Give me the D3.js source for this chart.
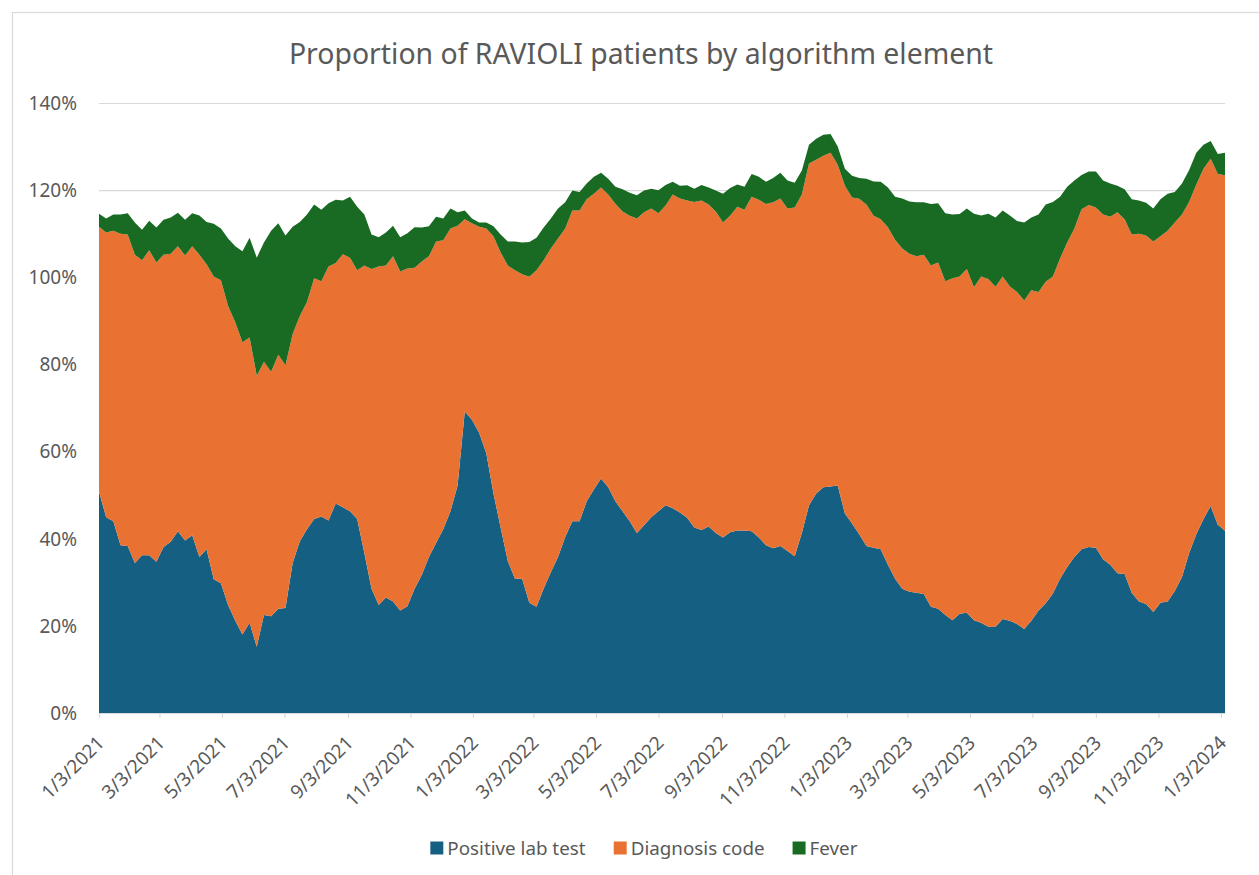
<!DOCTYPE html>
<html>
<head>
<meta charset="utf-8">
<script src="https://cdn.jsdelivr.net/npm/d3@7"></script>
<style>
    body { margin: 0; background: #fff; }
    svg { font-family: "Noto Sans", "Open Sans", sans-serif; }
</style>
</head>
<body>
<div id="chart"></div>
<script>
// series names and colours (Office theme)
const seriesKeys = ["Positive lab test", "Diagnosis code", "Fever"];
const seriesColors = ["#156082", "#E97132", "#196B24"];

// weekly values, % of patients, week starting 1/3/2021
const positiveLab = [
    50.8, 44.9, 44.0, 38.5, 38.3, 34.4, 36.2, 36.2, 34.7, 38.1,
    39.3, 41.7, 39.6, 40.8, 35.8, 37.6, 30.7, 29.8, 24.8, 21.2,
    18.0, 20.7, 15.2, 22.5, 22.2, 23.9, 24.1, 34.4, 39.4, 42.2,
    44.5, 45.1, 44.2, 48.1, 47.2, 46.3, 44.5, 36.7, 28.5, 24.8,
    26.5, 25.6, 23.5, 24.5, 28.5, 31.7, 35.8, 39.0, 42.2, 46.3,
    52.2, 69.2, 67.3, 64.3, 59.6, 50.4, 42.6, 34.9, 30.8, 30.8,
    25.3, 24.4, 28.6, 32.3, 35.8, 40.4, 44.0, 44.0, 48.6, 51.3,
    53.8, 51.8, 48.6, 46.3, 44.0, 41.3, 43.1, 44.9, 46.3, 47.7,
    47.0, 46.0, 44.8, 42.6, 42.0, 42.8, 41.3, 40.3, 41.5, 41.9,
    41.9, 41.7, 40.3, 38.5, 37.8, 38.3, 37.2, 36.0, 41.3, 47.7,
    50.4, 51.8, 52.0, 52.2, 45.8, 43.5, 41.0, 38.3, 37.9, 37.6,
    34.0, 30.8, 28.5, 27.8, 27.6, 27.3, 24.4, 23.9, 22.5, 21.3,
    22.8, 23.0, 21.3, 20.7, 19.8, 19.8, 21.6, 21.2, 20.4, 19.3,
    21.2, 23.5, 25.2, 27.4, 30.8, 33.5, 35.8, 37.6, 38.1, 37.9,
    35.3, 34.0, 32.1, 31.9, 27.6, 25.6, 25.0, 23.2, 25.3, 25.6,
    28.0, 31.2, 36.7, 41.0, 44.5, 47.5, 43.2, 41.8
];
const diagnosisCode = [
    60.8, 65.4, 66.7, 71.5, 71.5, 70.8, 67.7, 70.0, 68.7, 67.1,
    66.1, 65.4, 65.4, 66.3, 69.4, 65.4, 69.5, 69.5, 68.6, 68.5,
    67.1, 65.5, 62.2, 58.1, 56.1, 58.3, 55.7, 52.6, 51.7, 52.1,
    55.3, 54.0, 58.3, 55.2, 58.1, 58.2, 57.1, 66.0, 73.4, 77.7,
    76.2, 79.2, 77.8, 77.5, 73.7, 71.9, 69.0, 69.2, 66.3, 64.9,
    59.6, 44.1, 45.1, 47.3, 51.6, 59.0, 63.1, 67.8, 70.8, 69.9,
    74.8, 77.2, 75.3, 74.3, 73.1, 70.8, 71.3, 71.3, 69.3, 67.9,
    66.8, 67.2, 68.3, 68.8, 70.1, 72.2, 71.8, 70.9, 68.4, 68.8,
    72.0, 72.1, 72.8, 74.7, 75.6, 73.9, 73.8, 72.3, 72.6, 74.3,
    73.6, 76.8, 77.5, 78.3, 79.4, 79.8, 78.6, 80.0, 77.7, 78.4,
    76.6, 76.1, 76.6, 73.6, 75.2, 74.8, 77.0, 78.4, 76.2, 75.7,
    77.5, 77.8, 78.1, 77.6, 77.2, 77.9, 78.3, 79.5, 76.6, 78.5,
    77.4, 78.9, 76.4, 79.5, 79.8, 78.0, 78.6, 76.7, 76.2, 75.4,
    75.8, 73.1, 73.8, 72.8, 73.5, 74.5, 75.4, 78.0, 78.5, 78.1,
    79.1, 79.9, 82.8, 81.4, 82.2, 84.4, 84.6, 85.0, 84.1, 85.1,
    84.6, 83.2, 80.6, 80.3, 80.4, 79.7, 80.5, 81.6
];
const fever = [
    3.0, 3.2, 3.7, 4.4, 4.9, 7.4, 7.0, 6.8, 8.0, 8.0,
    8.3, 7.7, 8.2, 7.6, 9.0, 9.7, 12.1, 11.9, 15.5, 17.4,
    20.9, 22.9, 27.1, 27.4, 32.4, 30.2, 29.8, 24.6, 21.6, 20.1,
    16.9, 16.4, 14.5, 14.5, 12.3, 14.0, 14.6, 11.7, 7.9, 6.7,
    7.6, 7.0, 7.9, 8.1, 9.3, 7.8, 6.9, 5.7, 5.0, 4.6,
    3.1, 2.0, 1.1, 1.0, 1.4, 2.3, 4.1, 5.5, 6.6, 7.3,
    8.0, 7.5, 7.5, 6.9, 6.9, 6.0, 4.6, 4.3, 3.6, 3.9,
    3.4, 3.6, 3.9, 5.1, 5.3, 5.3, 5.0, 4.5, 5.3, 4.7,
    2.9, 2.9, 3.5, 3.0, 3.6, 3.9, 4.8, 6.6, 6.4, 5.1,
    5.3, 5.2, 5.3, 5.1, 5.6, 5.9, 6.4, 5.7, 5.5, 4.3,
    4.8, 4.8, 4.3, 4.2, 3.9, 5.0, 4.8, 5.9, 7.9, 8.6,
    9.1, 9.9, 11.5, 12.0, 12.4, 12.0, 14.1, 13.6, 15.6, 14.6,
    14.3, 13.9, 16.9, 14.0, 15.0, 15.9, 15.1, 16.3, 16.3, 17.9,
    16.7, 17.8, 17.7, 17.1, 14.2, 12.8, 11.0, 7.9, 7.7, 8.3,
    7.8, 7.6, 6.1, 6.9, 8.1, 7.6, 7.5, 7.6, 8.5, 8.5,
    7.0, 7.1, 7.3, 7.3, 5.5, 4.1, 4.6, 5.2
];

// axis labels
const xTickLabels = ["1/3/2021", "3/3/2021", "5/3/2021", "7/3/2021", "9/3/2021", "11/3/2021",
    "1/3/2022", "3/3/2022", "5/3/2022", "7/3/2022", "9/3/2022", "11/3/2022",
    "1/3/2023", "3/3/2023", "5/3/2023", "7/3/2023", "9/3/2023", "11/3/2023", "1/3/2024"];
const yTicks = [0, 20, 40, 60, 80, 100, 120, 140];

const title = "Proportion of RAVIOLI patients by algorithm element";

const width = 1259, height = 875;
const margin = {left: 99, right: 1225, top: 103, bottom: 713};
const textColor = "#595959";
const gridColor = "#d9d9d9";

const parseDate = d3.timeParse("%-m/%-d/%Y");
const startDate = parseDate("1/3/2021");
const weeks = positiveLab.map((_, i) => d3.timeDay.offset(startDate, 7 * i));

const rows = weeks.map((d, i) => ({
    date: d,
    "Positive lab test": positiveLab[i],
    "Diagnosis code": diagnosisCode[i],
    "Fever": fever[i]
}));

const svg = d3.select("#chart")
    .append("svg")
    .attr("width", width)
    .attr("height", height);

svg.append("rect")
    .attr("width", width).attr("height", height)
    .attr("fill", "#fff");

// chart frame (right/bottom edges fall outside the picture)
svg.append("rect")
    .attr("x", 12.5).attr("y", 12.5)
    .attr("width", 1400).attr("height", 1000)
    .attr("fill", "none")
    .attr("stroke", gridColor)
    .attr("stroke-width", 1.2);

const x = d3.scaleTime()
    .domain([startDate, weeks[weeks.length - 1]])
    .range([margin.left, margin.right]);

const y = d3.scaleLinear()
    .domain([0, 140])
    .range([margin.bottom, margin.top]);

// gridlines
svg.append("g")
    .selectAll("line")
    .data(yTicks.filter(t => t > 0))
    .join("line")
    .attr("x1", margin.left)
    .attr("x2", margin.right)
    .attr("y1", d => y(d) + 0.5)
    .attr("y2", d => y(d) + 0.5)
    .attr("stroke", gridColor)
    .attr("stroke-width", 1.2);

// y labels
svg.append("g")
    .selectAll("text")
    .data(yTicks)
    .join("text")
    .attr("x", 77)
    .attr("y", d => y(d))
    .attr("dy", "0.36em")
    .attr("text-anchor", "end")
    .attr("fill", textColor)
    .style("font-size", "19px")
    .text(d => d + "%");

// stacked areas
const stacked = d3.stack().keys(seriesKeys)(rows);

const area = d3.area()
    .x(d => x(d.data.date))
    .y0(d => y(d[0]))
    .y1(d => y(d[1]));

svg.append("g")
    .selectAll("path")
    .data(stacked)
    .join("path")
    .attr("fill", (d, i) => seriesColors[i])
    .attr("d", area);

// x axis
const xAxis = d3.axisBottom(x)
    .tickValues(xTickLabels.map(parseDate))
    .tickFormat(d3.timeFormat("%-m/%-d/%Y"))
    .tickSizeInner(5)
    .tickSizeOuter(0);

const gx = svg.append("g")
    .attr("transform", `translate(0,${margin.bottom})`)
    .call(xAxis);

gx.select(".domain")
    .attr("stroke", gridColor)
    .attr("stroke-width", 1.2);
gx.selectAll(".tick line")
    .attr("stroke", gridColor)
    .attr("stroke-width", 1.2);
gx.selectAll(".tick text")
    .attr("x", null)
    .attr("y", null)
    .attr("dy", null)
    .attr("transform", "translate(6,31) rotate(-45)")
    .attr("text-anchor", "end")
    .attr("fill", textColor)
    .style("font-family", "'Noto Sans', sans-serif")
    .style("font-size", "19px");

// title
svg.append("text")
    .attr("x", 641)
    .attr("y", 64)
    .attr("text-anchor", "middle")
    .attr("fill", textColor)
    .style("font-size", "28.4px")
    .text(title);

// legend
const legend = svg.append("g");
const legendItems = legend.selectAll("g")
    .data(seriesKeys)
    .join("g");

legendItems.append("rect")
    .attr("width", 13)
    .attr("height", 13)
    .attr("y", -6.5)
    .attr("fill", (d, i) => seriesColors[i]);

legendItems.append("text")
    .attr("x", 17)
    .attr("dy", "0.36em")
    .attr("fill", textColor)
    .style("font-size", "18.8px")
    .text(d => d);

let offset = 0;
legendItems.each(function() {
    const w = this.getBBox().width;
    d3.select(this).attr("transform", `translate(${offset},0)`);
    offset += w + 28;
});
const legendWidth = offset - 28;
legend.attr("transform", `translate(${644 - legendWidth / 2},848)`);
</script>
</body>
</html>
